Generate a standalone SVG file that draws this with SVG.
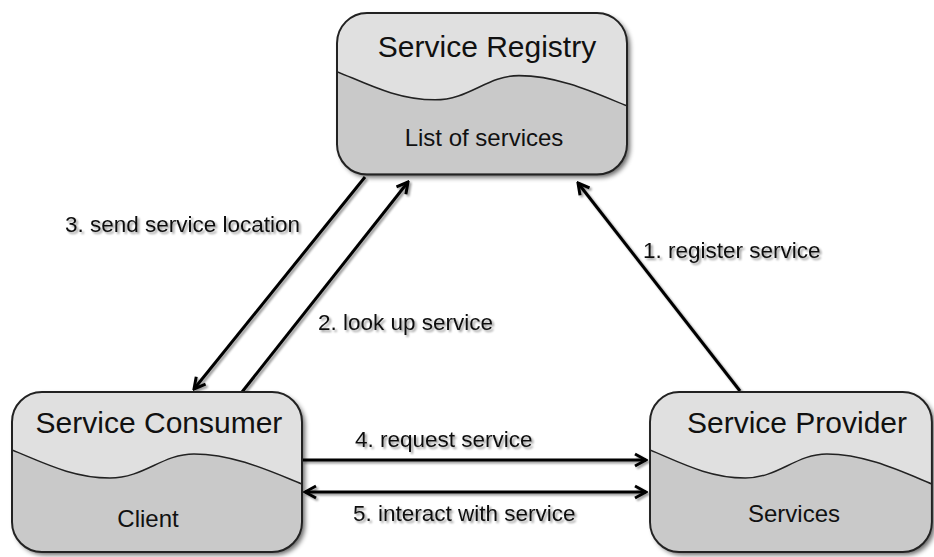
<svg xmlns="http://www.w3.org/2000/svg" xmlns:xlink="http://www.w3.org/1999/xlink" width="934" height="557" viewBox="0 0 934 557">
  <style>
    .title { font-family: "Liberation Sans", Arial, sans-serif; font-size: 30px; fill: #111; text-anchor: middle; }
    .sub { font-family: "Liberation Sans", Arial, sans-serif; font-size: 24px; fill: #111; text-anchor: middle; }
    .lbl { font-family: "Liberation Sans", Arial, sans-serif; font-size: 22.5px; fill: #111; }
    .conn { stroke: #000; stroke-width: 3; fill: none; }
  </style>
  <defs>
    <filter id="shadow" x="-10%" y="-10%" width="125%" height="125%">
      <feGaussianBlur in="SourceAlpha" stdDeviation="2.5"/>
      <feOffset dx="3" dy="3" result="b"/>
      <feComponentTransfer><feFuncA type="linear" slope="0.6"/></feComponentTransfer>
      <feMerge><feMergeNode/><feMergeNode in="SourceGraphic"/></feMerge>
    </filter>
    <filter id="lshadow" filterUnits="userSpaceOnUse" x="0" y="0" width="934" height="557">
      <feGaussianBlur in="SourceAlpha" stdDeviation="1.2"/>
      <feOffset dx="1.5" dy="1.5"/>
      <feComponentTransfer><feFuncA type="linear" slope="0.4"/></feComponentTransfer>
      <feMerge><feMergeNode/><feMergeNode in="SourceGraphic"/></feMerge>
    </filter>
    <clipPath id="boxclip">
      <rect x="0" y="0" width="290" height="160" rx="30" ry="30"/>
    </clipPath>
    <g id="box">
      <rect x="0" y="0" width="290" height="160" rx="30" ry="30" fill="#e0e0e0" filter="url(#shadow)"/>
      <path d="M0,58 C30,70 60,86 98,86 C132,86 150,62 182,62 C222,62 260,80 290,92 L290,160 L0,160 Z" fill="#c9c9c9" stroke="#222" stroke-width="1.5" clip-path="url(#boxclip)"/>
      <rect x="0" y="0" width="290" height="160" rx="30" ry="30" fill="none" stroke="#222" stroke-width="2"/>
    </g>
    <marker id="arr" viewBox="0 0 16 16" refX="14" refY="8" markerWidth="16" markerHeight="16" markerUnits="userSpaceOnUse" orient="auto-start-reverse">
      <path d="M3,2 L14,8 L3,14" fill="none" stroke="#000" stroke-width="3" stroke-linejoin="miter"/>
    </marker>
  </defs>

  <g id="connectors" filter="url(#lshadow)">
    <path class="conn" d="M365,177 L194,389" marker-end="url(#arr)"/>
    <path class="conn" d="M242,392 L408,182" marker-end="url(#arr)"/>
    <path class="conn" d="M740,391 L578,183" marker-end="url(#arr)"/>
    <path class="conn" d="M302,460 L646,460" marker-end="url(#arr)"/>
    <path class="conn" d="M305,492 L646,492" marker-start="url(#arr)" marker-end="url(#arr)"/>
    <text class="lbl" x="65" y="232">3. send service location</text>
    <text class="lbl" x="643" y="258">1. register service</text>
    <text class="lbl" x="318" y="330">2. look up service</text>
    <text class="lbl" x="355" y="447">4. request service</text>
    <text class="lbl" x="353" y="521">5. interact with service</text>
  </g>

  <g id="registry">
    <use xlink:href="#box" transform="translate(337,13) scale(1,1.01)"/>
    <text class="title" x="487" y="57">Service Registry</text>
    <text class="sub" x="484" y="146">List of services</text>
  </g>

  <g id="consumer">
    <use xlink:href="#box" transform="translate(12,392)"/>
    <text class="title" x="159" y="433">Service Consumer</text>
    <text class="sub" x="148" y="527">Client</text>
  </g>

  <g id="provider">
    <use xlink:href="#box" transform="translate(650,392) scale(0.972,1)"/>
    <text class="title" x="797" y="433">Service Provider</text>
    <text class="sub" x="794" y="522">Services</text>
  </g>
</svg>
